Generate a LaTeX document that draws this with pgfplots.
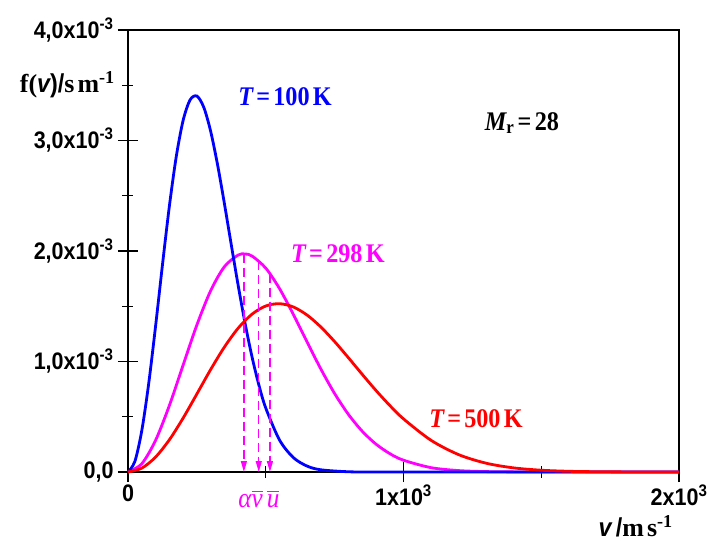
\documentclass[border=0pt]{standalone}
\usepackage{fontspec}
\setmainfont{Liberation Serif}
\newfontfamily\arialb[FakeStretch=0.9]{Liberation Sans}
\newfontfamily\timesb[FakeStretch=0.9]{Liberation Serif}
\usepackage{pgfplots}
\pgfplotsset{compat=1.18}
\usetikzlibrary{arrows.meta}
\definecolor{mblue}{RGB}{0,0,255}
\definecolor{mmag}{RGB}{255,0,255}
\definecolor{mred}{RGB}{255,0,0}
\newcommand{\tsp}{\hspace{0.12em}}
\newcommand{\ovl}[1]{\leavevmode\vbox{\hrule height 1.3bp \kern 2.5bp \hbox{#1}}}

% Maxwell speed distributions, M_r = 28, f in units of 1e-3 s/m
\pgfplotstableread{
v f
0 0
25 0.0965
50 0.3738
75 0.7979
100 1.3178
125 1.8731
150 2.4023
175 2.8516
200 3.1807
225 3.3660
250 3.4025
275 3.3008
300 3.0838
325 2.7819
350 2.4283
375 2.0543
400 1.6869
425 1.3454
450 1.0436
475 0.7877
500 0.5791
550 0.2895
600 0.1308
650 0.0536
700 0.0200
800 0.0021
900 0.0002
1000 0
1500 0
2000 0
}\tlow
\pgfplotstableread{
v f
0 0
50 0.0747
100 0.2865
150 0.6006
200 0.9672
250 1.3308
300 1.6406
350 1.8585
400 1.9638
425 1.9731
450 1.9548
500 1.8453
550 1.6596
600 1.4272
650 1.1766
700 0.9319
750 0.7101
800 0.5215
850 0.3693
900 0.2526
950 0.1668
1000 0.1066
1100 0.0394
1200 0.0128
1300 0.0037
1400 0.0009
1500 0.0002
1600 0.00004
2000 0
}\tmid
\pgfplotstableread{
v f
0 0
50 0.0346
100 0.1349
150 0.2909
200 0.4876
250 0.7063
300 0.9271
350 1.1310
400 1.3020
450 1.4281
500 1.5024
550 1.5233
600 1.4937
650 1.4203
700 1.3123
750 1.1801
800 1.0342
850 0.8843
900 0.7383
950 0.6026
1000 0.4807
1100 0.2868
1200 0.1573
1300 0.0795
1400 0.0372
1500 0.0161
1600 0.0064
1700 0.0024
1800 0.0008
1900 0.0003
2000 0.0001
}\thigh

\begin{document}
\begin{tikzpicture}
\useasboundingbox (-128bp,-71bp) rectangle (581bp,472bp);
\begin{axis}[
  at={(0,0)}, anchor=south west,
  scale only axis, width=551bp, height=442bp,
  xmin=0, xmax=2000, ymin=0, ymax=4,
  clip=false,
  axis line style={line width=1.6bp},
  tick pos=left, tick align=center,
  major tick length=20bp, minor tick length=11bp,
  every tick/.style={line width=1.4bp, black},
  xtick={0,1000,2000},
  xticklabels={0, 1x10\textsuperscript{3}, 2x10\textsuperscript{3}},
  minor xtick={500,1500},
  ytick={0,1,2,3,4},
  yticklabels={{0,0}, {1,0x10\textsuperscript{-3}}, {2,0x10\textsuperscript{-3}}, {3,0x10\textsuperscript{-3}}, {4,0x10\textsuperscript{-3}}},
  minor ytick={0.5,1.5,2.5,3.5},
  ticklabel style={font=\arialb\bfseries\fontsize{24}{26}\selectfont},
  yticklabel style={xshift=-1bp},
  xticklabel style={yshift=1bp},
]
\addplot[mmag, line width=2.8bp, smooth] table[x=v,y=f] {\tmid};
\addplot[mblue, line width=2.8bp, smooth] table[x=v,y=f] {\tlow};
\addplot[mred, line width=2.8bp, smooth] table[x=v,y=f] {\thigh};

\addplot[mmag, line width=1.4bp, dash pattern=on 9bp off 5bp, -{Triangle[width=6bp,length=11bp]}] coordinates {(420.7,1.9735) (420.7,0)};
\addplot[mmag, line width=1.4bp, dash pattern=on 9bp off 5bp, -{Triangle[width=6bp,length=11bp]}] coordinates {(474.6,1.912) (474.6,0)};
\addplot[mmag, line width=1.4bp, dash pattern=on 9bp off 5bp, -{Triangle[width=6bp,length=11bp]}] coordinates {(515.2,1.7955) (515.2,0)};

\node[mblue, font=\timesb\bfseries\fontsize{27}{29}\selectfont] at (axis cs:570,3.394) {{\itshape T}\tsp=\tsp100\tsp K};
\node[mmag, font=\timesb\bfseries\fontsize{27}{29}\selectfont] at (axis cs:762,1.98) {{\itshape T}\tsp=\tsp298\tsp K};
\node[mred, font=\timesb\bfseries\fontsize{27}{29}\selectfont] at (axis cs:1263,0.48) {{\itshape T}\tsp=\tsp500\tsp K};
\node[black, font=\timesb\bfseries\fontsize{27}{29}\selectfont] at (axis cs:1430,3.158) {{\itshape M}\textsubscript{r}\tsp=\tsp28};

\node[mmag, font=\timesb\fontsize{28}{30}\selectfont\itshape] at (axis cs:475,0) [yshift=-27bp]
  {α\ovl{v}\hspace{0.15em}\ovl{u}};

\node[anchor=east, inner sep=0pt, font=\bfseries\fontsize{26}{28}\selectfont] at (axis cs:0,3.5) [xshift=-13bp]
  {f({\arialb\bfseries\itshape v}{\arialb\bfseries )/}s\tsp m\textsuperscript{-1}};
\node[anchor=east, inner sep=0pt, font=\bfseries\fontsize{26}{28}\selectfont] at (axis cs:2000,0) [yshift=-54bp, xshift=-6bp]
  {{\arialb\bfseries\itshape v}{\arialb\bfseries\,/}m\tsp s\textsuperscript{-1}};
\end{axis}
\end{tikzpicture}
\end{document}
